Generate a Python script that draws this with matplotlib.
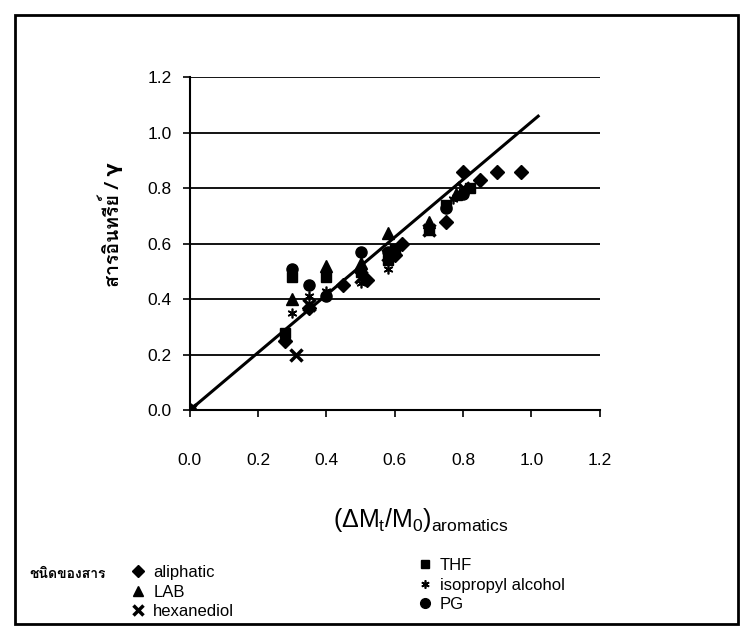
import matplotlib
matplotlib.use("Agg")
import matplotlib.pyplot as plt
from matplotlib import font_manager
from matplotlib.ft2font import FT2Font
from matplotlib.lines import Line2D
from matplotlib.patches import Rectangle

# data
aliphatic_x = [0, 0.28, 0.35, 0.45, 0.52, 0.60, 0.62, 0.75, 0.80, 0.85, 0.90, 0.97]
aliphatic_y = [0, 0.25, 0.37, 0.45, 0.47, 0.56, 0.60, 0.68, 0.86, 0.83, 0.86, 0.86]
lab_x = [0, 0.30, 0.40, 0.50, 0.58, 0.70, 0.78]
lab_y = [0, 0.40, 0.52, 0.53, 0.64, 0.68, 0.78]
hexanediol_x = [0, 0.31, 0.35, 0.50, 0.58, 0.70, 0.80]
hexanediol_y = [0, 0.20, 0.38, 0.48, 0.56, 0.65, 0.80]
thf_x = [0, 0.28, 0.30, 0.40, 0.50, 0.58, 0.60, 0.70, 0.75, 0.82]
thf_y = [0, 0.28, 0.48, 0.48, 0.50, 0.54, 0.58, 0.65, 0.74, 0.80]
ipa_x = [0, 0.30, 0.35, 0.40, 0.50, 0.58, 0.60, 0.77, 0.80]
ipa_y = [0, 0.35, 0.41, 0.43, 0.46, 0.51, 0.56, 0.76, 0.79]
pg_x = [0, 0.30, 0.35, 0.40, 0.50, 0.58, 0.75, 0.80]
pg_y = [0, 0.51, 0.45, 0.41, 0.57, 0.57, 0.73, 0.78]
trend_x = [0, 1.02]
trend_y = [0, 1.06]
ticks = [0.0, 0.2, 0.4, 0.6, 0.8, 1.0, 1.2]


def find_thai_font():
    # look for any installed font that has Thai glyphs
    for f in font_manager.fontManager.ttflist:
        try:
            ft = FT2Font(f.fname)
            cmap = ft.get_charmap()
            if ord("ส") in cmap and ord("ท") in cmap:
                return f.name
        except Exception:
            pass
    return None


thai = find_thai_font()
plt.rcParams["font.family"] = ["Liberation Sans", "DejaVu Sans"]
plt.rcParams["mathtext.fontset"] = "custom"
plt.rcParams["mathtext.rm"] = "Liberation Sans"
plt.rcParams["mathtext.it"] = "Liberation Sans"
thai_family = [thai, "DejaVu Sans"] if thai else ["DejaVu Sans"]

fig = plt.figure(figsize=(7.44, 6.39), dpi=100)
ax = fig.add_axes([0.255, 0.358, 0.551, 0.521])

ax.plot(trend_x, trend_y, color="black", lw=2.2, zorder=2)
ax.plot(aliphatic_x, aliphatic_y, "D", color="black", ms=7, ls="none", zorder=3)
ax.plot(lab_x, lab_y, "^", color="black", ms=8, ls="none", zorder=3)
ax.plot(hexanediol_x, hexanediol_y, "x", color="black", ms=8, mew=2.5, ls="none", zorder=3)
ax.plot(thf_x, thf_y, "s", color="black", ms=7, ls="none", zorder=3)
ax.plot(ipa_x, ipa_y, marker=(6, 2, 0), color="black", ms=7, mew=1.2, ls="none", zorder=3)
ax.plot(pg_x, pg_y, "o", color="black", ms=8, ls="none", zorder=3)

ax.set_xlim(0, 1.2)
ax.set_ylim(0, 1.2)
ax.set_xticks(ticks)
ax.set_yticks(ticks)
ax.set_xticklabels(["%.1f" % t for t in ticks])
ax.set_yticklabels(["%.1f" % t for t in ticks])
ax.tick_params(axis="both", labelsize=12.5, length=5, width=1.2, color="black")
ax.tick_params(axis="x", pad=26)
ax.tick_params(axis="y", pad=8)
ax.grid(axis="y", color="black", lw=1.3)
for s in ["top", "right"]:
    ax.spines[s].set_visible(False)
ax.spines["left"].set_linewidth(1.5)
ax.spines["bottom"].set_linewidth(1.5)
ax.set_axisbelow(True)

fig.text(0.565, 0.187, r"$(\Delta M_t/M_0)_{\mathrm{aromatics}}$", fontsize=18,
         ha="center", va="center")
fig.text(0.148, 0.648, "สารอินทรีย์ / γ", rotation=90, fontsize=14, fontweight="bold",
         ha="center", va="center", family=thai_family)

# legend
fig.text(0.04, 0.1, "ชนิดของสาร", fontsize=10, fontweight="bold",
         ha="left", va="center", family=thai_family)
h1 = [Line2D([], [], marker="D", color="black", ls="none", ms=6),
      Line2D([], [], marker="^", color="black", ls="none", ms=7),
      Line2D([], [], marker="x", color="black", ls="none", ms=7, mew=2.5)]
h2 = [Line2D([], [], marker="s", color="black", ls="none", ms=6),
      Line2D([], [], marker=(6, 2, 0), color="black", ls="none", ms=6, mew=1.2),
      Line2D([], [], marker="o", color="black", ls="none", ms=7)]
leg1 = fig.legend(h1, ["aliphatic", "LAB", "hexanediol"], loc="upper left",
                  bbox_to_anchor=(0.177, 0.116), frameon=False, fontsize=12,
                  handlelength=0.8, handletextpad=0.5, labelspacing=0.28,
                  borderaxespad=0, borderpad=0)
leg2 = fig.legend(h2, ["THF", "isopropyl alcohol", "PG"], loc="upper left",
                  bbox_to_anchor=(0.562, 0.127), frameon=False, fontsize=12,
                  handlelength=0.8, handletextpad=0.5, labelspacing=0.28,
                  borderaxespad=0, borderpad=0)

# outer frame
fig.patches.append(Rectangle((0.02, 0.024), 0.972, 0.953, transform=fig.transFigure,
                             fill=False, edgecolor="black", lw=2))

fig.savefig("out.png", dpi=100)
